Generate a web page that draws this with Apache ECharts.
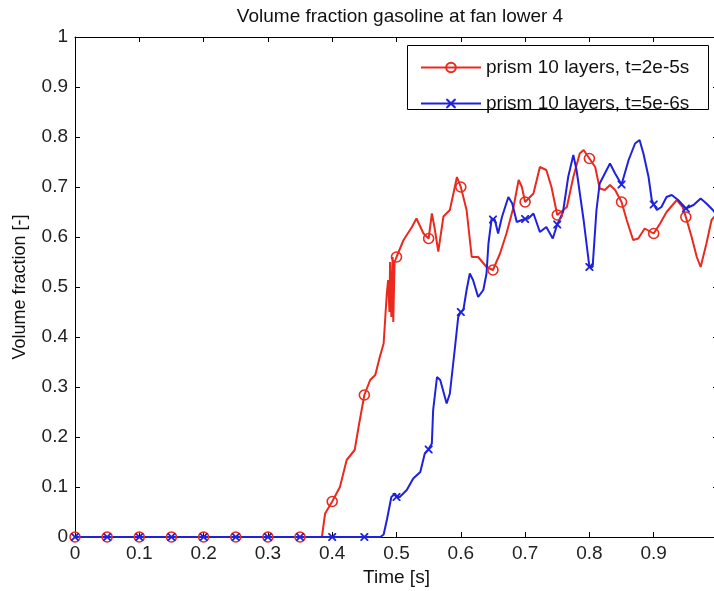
<!DOCTYPE html>
<html>
<head>
<meta charset="utf-8">
<script src="https://cdn.jsdelivr.net/npm/echarts@6/dist/echarts.min.js"></script>
<style>html,body{margin:0;padding:0;background:#fff;}#c{width:714px;height:591px;}</style>
</head>
<body>
<div id="c"></div>
<script>
// ---- data ----
var titleText = 'Volume fraction gasoline at fan lower 4';
var xAxisName = 'Time [s]';
var yAxisName = 'Volume fraction [-]';
var seriesNames = ['prism 10 layers, t=2e-5s', 'prism 10 layers, t=5e-6s'];
var markerX = [0,0.05,0.1,0.15,0.2,0.25,0.3,0.35,0.4,0.45,0.5,0.55,0.6,0.65,0.7,0.75,0.8,0.85,0.9,0.95];

var redX = [0,0.05,0.1,0.15,0.2,0.25,0.3,0.35,0.384,0.389,0.4,0.412,0.4225,0.435,0.441,0.45,0.459,0.467,0.474,0.48,0.483,0.485,0.487,0.489,0.49,0.492,0.494,0.495,0.497,0.5,0.511,0.524,0.531,0.542,0.55,0.555,0.559,0.565,0.573,0.583,0.594,0.6,0.609,0.617,0.627,0.64,0.65,0.661,0.671,0.682,0.69,0.695,0.7,0.713,0.723,0.733,0.741,0.75,0.765,0.775,0.785,0.791,0.8,0.809,0.816,0.824,0.832,0.84,0.85,0.858,0.868,0.876,0.886,0.9,0.91,0.92,0.936,0.945,0.95,0.959,0.967,0.973,0.982,0.99,1.0];
var redY = [0,0,0,0,0,0,0,0,0,0.047,0.071,0.10,0.154,0.174,0.22,0.284,0.314,0.324,0.36,0.387,0.448,0.488,0.514,0.45,0.55,0.44,0.56,0.43,0.55,0.56,0.594,0.62,0.637,0.607,0.597,0.647,0.62,0.571,0.641,0.654,0.72,0.70,0.654,0.56,0.56,0.54,0.534,0.567,0.607,0.66,0.714,0.70,0.67,0.687,0.74,0.734,0.70,0.644,0.66,0.72,0.767,0.774,0.757,0.74,0.697,0.694,0.704,0.694,0.67,0.634,0.594,0.597,0.617,0.607,0.627,0.65,0.674,0.66,0.64,0.60,0.56,0.54,0.587,0.634,0.65];

var blueX = [0,0.05,0.1,0.15,0.2,0.25,0.3,0.35,0.4,0.45,0.475,0.48,0.485,0.492,0.498,0.5,0.505,0.516,0.526,0.537,0.544,0.549,0.55,0.555,0.557,0.563,0.568,0.578,0.583,0.591,0.596,0.6,0.604,0.609,0.614,0.619,0.627,0.635,0.64,0.643,0.648,0.65,0.653,0.658,0.664,0.674,0.68,0.687,0.695,0.7,0.705,0.713,0.723,0.733,0.743,0.75,0.759,0.767,0.775,0.78,0.791,0.8,0.805,0.811,0.816,0.832,0.84,0.85,0.853,0.861,0.871,0.878,0.884,0.892,0.897,0.9,0.905,0.912,0.92,0.928,0.938,0.95,0.962,0.973,0.982,0.992,1.0];
var blueY = [0,0,0,0,0,0,0,0,0,0,0,0.005,0.034,0.08,0.087,0.08,0.08,0.094,0.117,0.13,0.167,0.174,0.175,0.187,0.254,0.32,0.314,0.267,0.287,0.38,0.44,0.45,0.454,0.494,0.527,0.514,0.48,0.494,0.527,0.587,0.637,0.635,0.634,0.607,0.64,0.68,0.667,0.63,0.634,0.636,0.637,0.647,0.61,0.62,0.597,0.625,0.65,0.72,0.764,0.734,0.634,0.54,0.54,0.654,0.707,0.747,0.727,0.705,0.704,0.754,0.787,0.794,0.767,0.72,0.674,0.665,0.654,0.66,0.68,0.684,0.674,0.657,0.664,0.677,0.667,0.654,0.64];

// ---- build ----
var FONT = '"Liberation Sans", Arial, sans-serif';
var RED = '#ea2a1e', BLUE = '#1e22dc';
function isMarker(x){ for (var i=0;i<markerX.length;i++){ if (Math.abs(markerX[i]-x)<1e-9) return true; } return false; }
function build(xs, ys){
  return xs.map(function(x,i){
    var d = {value:[x, ys[i]]};
    if (!isMarker(x)) d.symbol = 'none';
    return d;
  });
}
var xMark = 'path://M0,0L1.6,0L5,3.4L8.4,0L10,0L10,1.6L6.6,5L10,8.4L10,10L8.4,10L5,6.6L1.6,10L0,10L0,8.4L3.4,5L0,1.6Z';

var axisCommon = {
  type:'value', min:0, max:1, interval:0.1,
  axisLine:{show:true, onZero:false, lineStyle:{color:'#000', width:1}},
  axisTick:{show:true, inside:true, length:5, lineStyle:{color:'#000', width:1}},
  splitLine:{show:false}
};
function ax(extra){ var o = JSON.parse(JSON.stringify(axisCommon)); for (var k in extra) o[k]=extra[k]; return o; }

var chart = echarts.init(document.getElementById('c'), null, {renderer:'canvas'});
chart.setOption({
  animation:false,
  backgroundColor:'#fff',
  title:{text:titleText, left:395, textAlign:'center', top:2,
    textStyle:{fontSize:19, fontWeight:'normal', color:'#111', fontFamily:FONT}},
  grid:{left:75, top:37, width:643, height:500, containLabel:false, outerBoundsMode:'none'},
  xAxis:[
    ax({position:'bottom', name:xAxisName, nameLocation:'middle', nameGap:31,
      nameTextStyle:{fontSize:19, color:'#111', fontFamily:FONT},
      axisLabel:{show:true, margin:7, fontSize:19, color:'#222', fontFamily:FONT}}),
    ax({position:'top', axisLabel:{show:false}})
  ],
  yAxis:[
    ax({position:'left', name:yAxisName, nameLocation:'middle', nameGap:46, nameRotate:90,
      nameTextStyle:{fontSize:18, color:'#111', fontFamily:FONT},
      axisLabel:{show:true, margin:7, fontSize:19, color:'#222', fontFamily:FONT}}),
    ax({position:'right', axisLabel:{show:false}})
  ],
  graphic:[{type:'rect', left:407, top:45, z:50,
    shape:{width:301, height:64}, style:{fill:'#fff', stroke:'#000', lineWidth:1}}],
  legend:{orient:'vertical', left:407, top:45, z:60, padding:[13,10,10,13],
    itemWidth:60, itemHeight:12, itemGap:17,
    textStyle:{fontSize:19, color:'#111', fontFamily:FONT},
    data:seriesNames},
  series:[
    {type:'line', name:seriesNames[0], data:build(redX, redY),
      symbol:'circle', symbolSize:10, showSymbol:true, showAllSymbol:true,
      lineStyle:{color:RED, width:2}, 
      itemStyle:{color:'rgba(255,255,255,0)', borderColor:RED, borderWidth:1.6},
      emphasis:{disabled:true}},
    {type:'line', name:seriesNames[1], data:build(blueX, blueY),
      symbol:xMark, symbolSize:8, showSymbol:true, showAllSymbol:true,
      lineStyle:{color:BLUE, width:2},
      itemStyle:{color:BLUE, borderWidth:0},
      emphasis:{disabled:true}}
  ]
});
</script>
</body>
</html>
